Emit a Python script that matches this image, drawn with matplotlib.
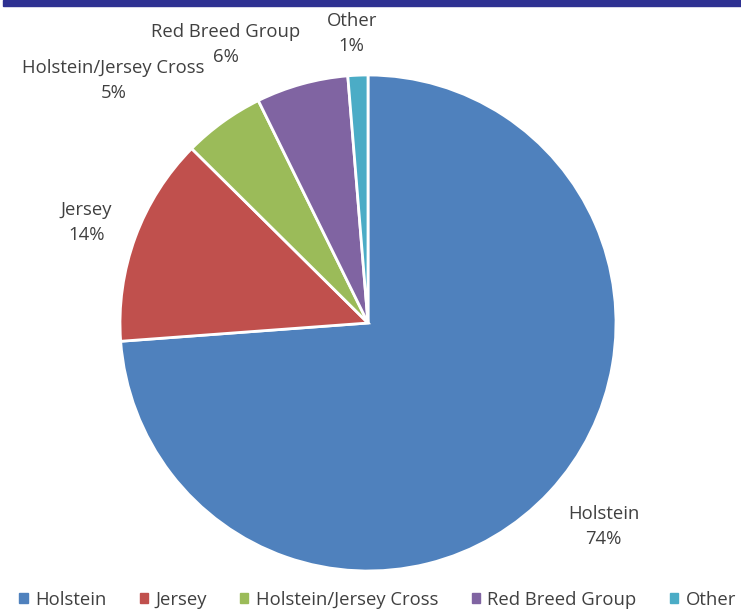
import matplotlib
matplotlib.use("Agg")
import matplotlib.pyplot as plt
from matplotlib.patches import Rectangle
import numpy as np

categories = ["Holstein", "Jersey", "Holstein/Jersey Cross", "Red Breed Group", "Other"]
values = [73.9, 13.6, 5.3, 6.0, 1.3]
percent_labels = [74, 14, 5, 6, 1]
colors = ["#4F81BD", "#C0504D", "#9BBB59", "#8064A2", "#4BACC6"]

plt.rcParams['font.family'] = ['Open Sans', 'DejaVu Sans']
W, H = 741, 609
fig = plt.figure(figsize=(W/100, H/100), dpi=100)
cx, cy, R = 368, 323, 248
ax = fig.add_axes([0, 0, 1, 1])

wedges, _ = ax.pie(values, colors=colors, startangle=90, counterclock=False,
                   radius=1, center=(0, 0), frame=True,
                   wedgeprops=dict(edgecolor='white', linewidth=2))
ax.set_xlim(-cx/R, (W-cx)/R)
ax.set_ylim((cy-H)/R, cy/R)
ax.set_aspect('auto')
ax.axis('off')

# label placement (radius factor, angle offset in degrees) relative to wedge mid-angle
label_r = [1.254, 1.206, 1.418, 1.262, 1.171]
label_dang = [2.1, 0.65, 10.65, 11.55, 0.9]
for w, cat, p, r, da in zip(wedges, categories, percent_labels, label_r, label_dang):
    mid = (w.theta1 + w.theta2) / 2 + da
    x = r*np.cos(np.radians(mid)); y = r*np.sin(np.radians(mid))
    ax.text(x, y, f"{cat}\n{p}%", ha='center', va='center', fontsize=13.3,
            color='#404040', linespacing=1.5)

# top bar
fig.patches.append(Rectangle((3/W, 1-6/H), 1, 6/H, transform=fig.transFigure,
                             color='#2E3192', zorder=5))

handles = [Rectangle((0, 0), 1, 1, color=c) for c in colors]
leg = fig.legend(handles, categories, loc='center', bbox_to_anchor=(0.5095, 1-600/H),
                 ncol=5, frameon=False, fontsize=13.3, handlelength=0.45, handleheight=0.45,
                 handletextpad=0.4, columnspacing=1.8, labelcolor='#404040',
                 borderaxespad=0, borderpad=0)
fig.savefig("out.png", dpi=100)
